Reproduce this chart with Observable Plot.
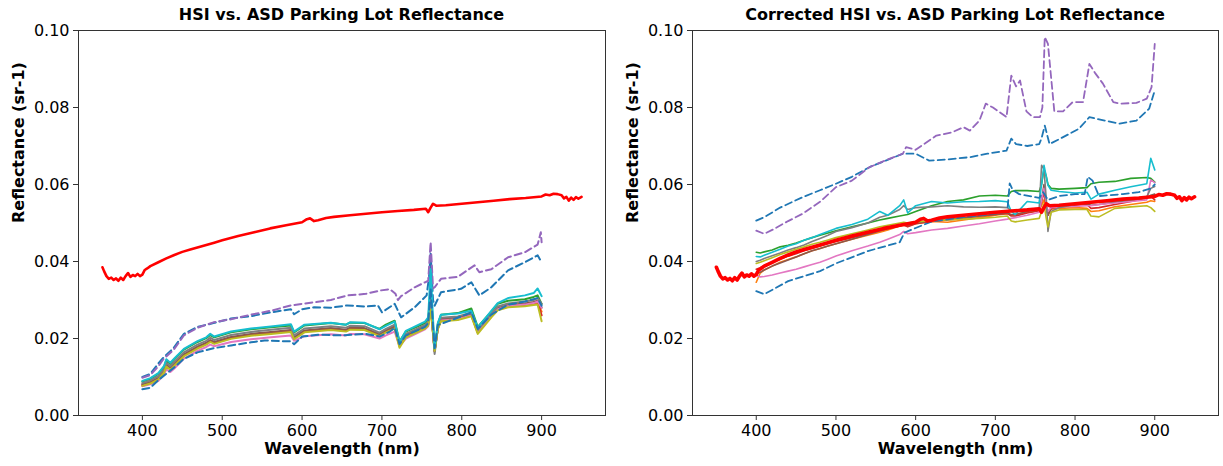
<!DOCTYPE html>
<html><head><meta charset="utf-8">
<script src="https://cdn.jsdelivr.net/npm/d3@7"></script>
<script src="https://cdn.jsdelivr.net/npm/@observablehq/plot@0.6"></script>
<style>
body{margin:0;background:#fff;font-family:"DejaVu Sans",sans-serif;}
#fig{position:relative;width:1223px;height:466px;overflow:hidden;background:#fff}
.panel{position:absolute;top:0}
.title{position:absolute;top:5px;font-weight:bold;font-size:16px;line-height:20px;text-align:center;white-space:nowrap;color:#000;font-family:"DejaVu Sans",sans-serif}
.panel svg{position:absolute;top:22px;left:0}
</style></head><body><div id="fig"></div>
<script>
// ---------- text ----------
const titleLeft = "HSI vs. ASD Parking Lot Reflectance";
const titleRight = "Corrected HSI vs. ASD Parking Lot Reflectance";
const xLabel = "Wavelength (nm)";
const yLabel = "Reflectance (sr-1)";
const xTicks = [400, 500, 600, 700, 800, 900];
const yTicks = [0, 0.02, 0.04, 0.06, 0.08, 0.10];

// ---------- ASD reference (same in both panels) ----------
const asdWl = [350,352,355,358,361,364,367,370,373,376,379,382,385,388,391,394,397,400,403,406,410,420,430,440,450,460,470,480,490,500,520,540,560,580,600,606,610,615,620,630,640,660,680,700,720,740,755,758,761,764,768,780,800,820,840,860,880,900,905,910,915,920,925,928,931,934,937,940,943,946,950];
const asdVal = [.0385,.0375,.0362,.0355,.0358,.0352,.0356,.0350,.0358,.0352,.0362,.0370,.0360,.0365,.0362,.0368,.0362,.0366,.0378,.0382,.0388,.0398,.0408,.0417,.0425,.0431,.0437,.0443,.0449,.0455,.0466,.0476,.0486,.0494,.0502,.0510,.0512,.0505,.0507,.0513,.0516,.0520,.0524,.0528,.0531,.0534,.0537,.0528,.0540,.0550,.0545,.0546,.0550,.0554,.0558,.0562,.0565,.0569,.0574,.0572,.0576,.0575,.0572,.0564,.0568,.0558,.0566,.0560,.0567,.0563,.0568];

// ---------- Left panel: HSI (uncorrected) ----------
const leftGrid = [400,410,420,427,430,435,440,452,469,480,485,490,511,536,561,586,590,603,636,655,660,678,697,705,716,722,730,754,758,761,764,766,770,774,795,812,820,837,845,858,879,890,895,900];
const leftOrange = [.0078,.0084,.0095,.0113,.0129,.0121,.0131,.0156,.0176,.0186,.0193,.0188,.0201,.0209,.0214,.0219,.0200,.0218,.0224,.0220,.0225,.0224,.0208,.0218,.0229,.0181,.0206,.0228,.0236,.0280,.0215,.0167,.0226,.0247,.0250,.0260,.0215,.0257,.0275,.0283,.0287,.0290,.0293,.0270];
const leftGreen = [.0088,.0095,.0108,.0126,.0143,.0134,.0146,.0171,.0191,.0201,.0209,.0203,.0216,.0224,.0229,.0234,.0216,.0234,.0240,.0236,.0241,.0240,.0225,.0236,.0246,.0192,.0218,.0240,.0250,.0330,.0235,.0172,.0238,.0262,.0266,.0278,.0230,.0270,.0290,.0298,.0302,.0308,.0312,.0290];
const leftRed = [.0079,.0085,.0096,.0114,.0130,.0122,.0132,.0157,.0177,.0187,.0194,.0189,.0202,.0210,.0215,.0220,.0201,.0219,.0225,.0221,.0226,.0225,.0209,.0219,.0230,.0182,.0207,.0229,.0237,.0285,.0216,.0168,.0227,.0248,.0251,.0261,.0216,.0258,.0276,.0284,.0288,.0292,.0295,.0260];
const leftBrown = [.0081,.0087,.0098,.0116,.0132,.0124,.0134,.0159,.0179,.0189,.0196,.0191,.0204,.0212,.0217,.0222,.0203,.0221,.0227,.0223,.0228,.0227,.0211,.0221,.0232,.0184,.0209,.0231,.0239,.0290,.0218,.0166,.0229,.0251,.0254,.0264,.0219,.0261,.0279,.0287,.0291,.0295,.0298,.0280];
const leftPink = [.0076,.0081,.0090,.0106,.0120,.0113,.0122,.0148,.0168,.0178,.0184,.0180,.0191,.0198,.0203,.0208,.0194,.0206,.0211,.0208,.0212,.0211,.0200,.0208,.0218,.0180,.0200,.0224,.0232,.0290,.0214,.0170,.0226,.0247,.0250,.0260,.0218,.0258,.0276,.0284,.0288,.0292,.0296,.0280];
const leftGray = [.0084,.0091,.0102,.0120,.0137,.0128,.0139,.0164,.0184,.0194,.0202,.0196,.0209,.0217,.0223,.0228,.0208,.0226,.0232,.0228,.0233,.0232,.0215,.0225,.0236,.0187,.0212,.0235,.0243,.0320,.0215,.0160,.0228,.0254,.0257,.0267,.0222,.0264,.0283,.0291,.0296,.0300,.0305,.0290];
const leftOlive = [.0077,.0083,.0094,.0111,.0127,.0119,.0129,.0154,.0174,.0184,.0191,.0186,.0199,.0207,.0212,.0217,.0198,.0216,.0222,.0218,.0223,.0222,.0206,.0216,.0226,.0176,.0203,.0226,.0234,.0275,.0212,.0168,.0224,.0245,.0248,.0258,.0212,.0255,.0273,.0281,.0284,.0287,.0288,.0245];
const leftCyan = [.0090,.0097,.0110,.0128,.0146,.0137,.0148,.0173,.0193,.0203,.0212,.0205,.0218,.0226,.0231,.0237,.0218,.0236,.0241,.0236,.0242,.0241,.0224,.0233,.0244,.0190,.0220,.0244,.0255,.0380,.0250,.0175,.0240,.0262,.0265,.0272,.0228,.0272,.0292,.0305,.0312,.0318,.0330,.0310];
const leftBlueDashWl = [400,410,420,427,439,452,469,489,511,536,561,586,590,600,615,636,657,680,695,700,716,724,741,756,759,761,764,766,774,799,812,822,837,858,879,895,900];
const leftBlueDash = [.0100,.0108,.0135,.0152,.0175,.0212,.0230,.0240,.0252,.0258,.0268,.0276,.0263,.0276,.0281,.0280,.0286,.0283,.0286,.0268,.0290,.0255,.0281,.0312,.0360,.0420,.0300,.0285,.0320,.0329,.0346,.0312,.0333,.0377,.0398,.0416,.0398];
const leftPurpleDashWl = [400,410,420,427,439,452,469,489,511,536,561,586,600,615,636,657,680,699,710,717,720,724,741,754,758,761,764,766,774,795,816,822,837,858,879,895,899,900];
const leftPurpleDash = [.0098,.0105,.0128,.0148,.0170,.0208,.0228,.0242,.0250,.0262,.0272,.0286,.0290,.0294,.0300,.0312,.0316,.0325,.0328,.0316,.0300,.0310,.0333,.0346,.0350,.0450,.0330,.0333,.0355,.0360,.0390,.0372,.0380,.0411,.0424,.0444,.0476,.0450];
const leftBlueDash2Wl = [400,410,420,440,452,469,490,511,536,553,575,586,590,600,620,650,680,697,710,716,722,730,754,758,761,764,766,770,790,812,820,837,858,879,895,900];
const leftBlueDash2 = [.0068,.0072,.0092,.0125,.0147,.0164,.0175,.0182,.0190,.0195,.0193,.0193,.0185,.0205,.0210,.0208,.0212,.0205,.0218,.0228,.0185,.0208,.0230,.0240,.0330,.0230,.0175,.0235,.0250,.0268,.0225,.0262,.0288,.0296,.0305,.0285];

// ---------- Right panel: corrected HSI ----------
const rightGrid = [400,405,410,420,430,440,450,460,470,480,490,500,520,540,555,565,580,585,590,600,620,640,660,680,700,715,720,725,740,755,758,761,764,766,770,780,800,815,820,830,850,870,890,895,900];
const rightOrange = [.0346,.0370,.0378,.0388,.0398,.0405,.0412,.0420,.0428,.0434,.0440,.0446,.0458,.0468,.0476,.0482,.0492,.0494,.0492,.0498,.0504,.0502,.0508,.0514,.0520,.0524,.0520,.0522,.0528,.0532,.0545,.0560,.0535,.0525,.0536,.0538,.0540,.0538,.0530,.0532,.0542,.0548,.0554,.0558,.0556];
const rightGreen = [.0424,.0422,.0425,.0430,.0438,.0442,.0448,.0455,.0462,.0468,.0474,.0480,.0490,.0500,.0508,.0512,.0518,.0520,.0522,.0530,.0545,.0556,.0560,.0570,.0572,.0570,.0582,.0584,.0584,.0582,.0600,.0640,.0620,.0600,.0590,.0588,.0590,.0592,.0602,.0606,.0608,.0616,.0618,.0616,.0606];
const rightRed = [.0380,.0384,.0390,.0398,.0406,.0414,.0420,.0428,.0434,.0440,.0446,.0452,.0462,.0472,.0480,.0485,.0492,.0495,.0490,.0498,.0504,.0508,.0512,.0518,.0522,.0525,.0518,.0518,.0526,.0532,.0555,.0580,.0540,.0520,.0538,.0542,.0546,.0548,.0538,.0540,.0548,.0556,.0565,.0570,.0560];
const rightBrown = [.0369,.0372,.0378,.0388,.0396,.0404,.0412,.0420,.0428,.0434,.0440,.0446,.0458,.0470,.0480,.0486,.0494,.0498,.0494,.0500,.0506,.0510,.0514,.0518,.0522,.0526,.0522,.0522,.0530,.0536,.0560,.0600,.0545,.0520,.0540,.0545,.0548,.0550,.0546,.0548,.0554,.0560,.0566,.0572,.0575];
const rightPink = [.0364,.0360,.0361,.0365,.0370,.0375,.0380,.0386,.0392,.0398,.0406,.0414,.0428,.0440,.0450,.0458,.0470,.0478,.0472,.0475,.0482,.0486,.0492,.0498,.0505,.0510,.0512,.0514,.0520,.0528,.0560,.0590,.0550,.0530,.0540,.0542,.0543,.0545,.0545,.0548,.0552,.0556,.0560,.0612,.0605];
const rightGray = [.0400,.0403,.0408,.0415,.0422,.0430,.0436,.0443,.0452,.0460,.0468,.0478,.0488,.0500,.0515,.0520,.0535,.0545,.0535,.0540,.0542,.0545,.0542,.0541,.0542,.0540,.0532,.0530,.0535,.0538,.0650,.0640,.0560,.0478,.0530,.0540,.0548,.0552,.0553,.0554,.0556,.0560,.0568,.0590,.0595];
const rightOlive = [.0395,.0398,.0402,.0410,.0418,.0425,.0432,.0438,.0445,.0450,.0456,.0462,.0472,.0482,.0490,.0494,.0500,.0502,.0500,.0503,.0506,.0508,.0510,.0512,.0515,.0518,.0505,.0503,.0508,.0512,.0530,.0550,.0510,.0490,.0528,.0534,.0535,.0535,.0518,.0516,.0538,.0542,.0545,.0540,.0530];
const rightCyan = [.0413,.0412,.0416,.0424,.0432,.0440,.0446,.0455,.0462,.0470,.0478,.0486,.0496,.0510,.0530,.0520,.0545,.0560,.0526,.0545,.0556,.0552,.0555,.0556,.0558,.0555,.0530,.0522,.0556,.0552,.0600,.0650,.0620,.0598,.0585,.0582,.0578,.0580,.0562,.0575,.0585,.0594,.0602,.0668,.0638];
const rightBlueDashWl = [400,410,430,458,480,500,520,542,560,584,600,617,640,668,690,714,720,726,740,755,758,762,768,785,805,818,839,856,877,893,900];
const rightBlueDash = [.0506,.0515,.0540,.0567,.0585,.0602,.0620,.0645,.0660,.0680,.0680,.0662,.0665,.0671,.0680,.0688,.0719,.0705,.0700,.0705,.0720,.0753,.0705,.0723,.0745,.0775,.0765,.0758,.0766,.0797,.0844];
const rightPurpleDashWl = [400,410,420,440,458,480,500,520,542,565,584,588,600,626,645,660,668,680,688,697,714,720,726,731,739,747,756,759,762,766,774,785,797,810,818,825,835,848,856,877,890,896,900];
const rightPurpleDash = [.0480,.0472,.0482,.0505,.0524,.0555,.0593,.0610,.0645,.0665,.0680,.0697,.0690,.0727,.0735,.0749,.0740,.0766,.0810,.0800,.0775,.0883,.0855,.0870,.0790,.0775,.0775,.0800,.0983,.0965,.0790,.0790,.0814,.0814,.0913,.0890,.0862,.0814,.0810,.0812,.0823,.0853,.0965];
const rightBlueDash2Wl = [400,410,440,480,500,540,580,586,600,620,660,700,715,718,722,730,755,760,766,780,800,812,816,822,830,860,880,895,900];
const rightBlueDash2 = [.0323,.0315,.0349,.0375,.0395,.0427,.0450,.0475,.0487,.0504,.0515,.0525,.0530,.0603,.0585,.0575,.0565,.0580,.0560,.0570,.0575,.0575,.0620,.0610,.0570,.0575,.0580,.0590,.0600];

// ---------- colours (matplotlib tab10) ----------
const C = {blue:"#1f77b4", orange:"#ff7f0e", green:"#2ca02c", red:"#d62728", purple:"#9467bd", brown:"#8c564b", pink:"#e377c2", gray:"#7f7f7f", olive:"#bcbd22", cyan:"#17becf", asd:"#ff0000"};

const rows = (wl, vals) => wl.map((w, i) => ({w, v: vals[i]}));

function makePanel({left, width, marginLeft, marginRight, title, series, lw, dlw, asdW}) {
  const marks = [
    Plot.axisX({ticks: xTicks, tickSize: 5, tickPadding: 4, label: null, tickFormat: d => String(d), stroke: "#333"}),
    Plot.axisY({ticks: yTicks, tickSize: 5, tickPadding: 4, label: null, tickFormat: d => d.toFixed(2), stroke: "#333"})
  ];
  for (const s of series) {
    marks.push(Plot.line(rows(s.wl, s.v), {x: "w", y: "v", stroke: s.c, strokeWidth: s.dash ? dlw : lw,
      strokeDasharray: s.dash ? "7,4" : null, strokeLinejoin: "round"}));
  }
  marks.push(Plot.line(rows(asdWl, asdVal), {x: "w", y: "v", stroke: C.asd, strokeWidth: asdW, strokeLinejoin: "round"}));
  marks.push(Plot.frame({stroke: "#333", strokeWidth: 1}));
  marks.push(Plot.text([xLabel], {frameAnchor: "bottom", dy: 38, fontWeight: "bold", fontSize: 16, fill: "#000"}));
  marks.push(Plot.text([yLabel], {frameAnchor: "left", dx: -60, rotate: -90, fontWeight: "bold", fontSize: 16, fill: "#000"}));
  const svg = Plot.plot({
    width, height: 444, marginTop: 8, marginBottom: 51, marginLeft, marginRight,
    x: {domain: [320, 980]},
    y: {domain: [0, 0.1]},
    style: {fontFamily: "DejaVu Sans", fontSize: "16px", color: "#000", background: "transparent", overflow: "visible"},
    marks
  });
  const div = document.createElement("div");
  div.className = "panel";
  div.style.left = left + "px";
  div.style.width = width + "px";
  div.style.height = "466px";
  const t = document.createElement("div");
  t.className = "title";
  t.textContent = title;
  t.style.left = marginLeft + "px";
  t.style.width = (width - marginLeft - marginRight) + "px";
  div.appendChild(t);
  div.appendChild(svg);
  document.getElementById("fig").appendChild(div);
}

makePanel({
  left: 0, width: 612, marginLeft: 78, marginRight: 7, title: titleLeft, lw: 2, dlw: 2, asdW: 2.6,
  series: [
    {wl: leftBlueDashWl, v: leftBlueDash, c: C.blue, dash: true},
    {wl: leftGrid, v: leftOrange, c: C.orange},
    {wl: leftGrid, v: leftGreen, c: C.green},
    {wl: leftGrid, v: leftRed, c: C.red},
    {wl: leftPurpleDashWl, v: leftPurpleDash, c: C.purple, dash: true},
    {wl: leftGrid, v: leftBrown, c: C.brown},
    {wl: leftGrid, v: leftPink, c: C.pink},
    {wl: leftGrid, v: leftGray, c: C.gray},
    {wl: leftGrid, v: leftOlive, c: C.olive},
    {wl: leftGrid, v: leftCyan, c: C.cyan},
    {wl: leftBlueDash2Wl, v: leftBlueDash2, c: C.blue, dash: true}
  ]
});

makePanel({
  left: 612, width: 611, marginLeft: 80, marginRight: 5, title: titleRight, lw: 1.6, dlw: 1.8, asdW: 3.6,
  series: [
    {wl: rightBlueDashWl, v: rightBlueDash, c: C.blue, dash: true},
    {wl: rightGrid, v: rightOrange, c: C.orange},
    {wl: rightGrid, v: rightGreen, c: C.green},
    {wl: rightGrid, v: rightRed, c: C.red},
    {wl: rightPurpleDashWl, v: rightPurpleDash, c: C.purple, dash: true},
    {wl: rightGrid, v: rightBrown, c: C.brown},
    {wl: rightGrid, v: rightPink, c: C.pink},
    {wl: rightGrid, v: rightGray, c: C.gray},
    {wl: rightGrid, v: rightOlive, c: C.olive},
    {wl: rightGrid, v: rightCyan, c: C.cyan},
    {wl: rightBlueDash2Wl, v: rightBlueDash2, c: C.blue, dash: true}
  ]
});
</script>
</body></html>
